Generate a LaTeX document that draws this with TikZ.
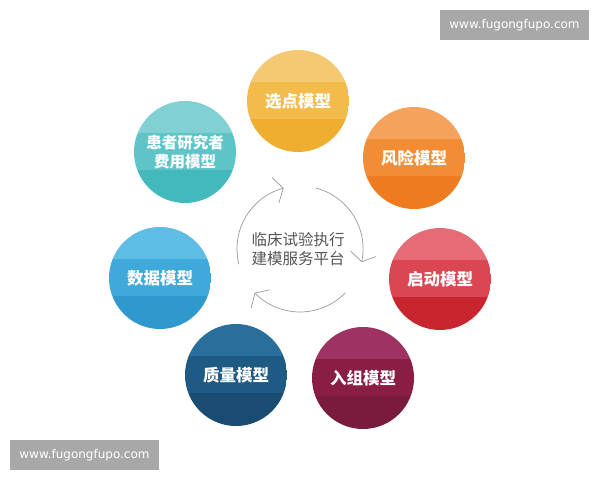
\documentclass[tikz,border=0pt]{standalone}
\usepackage{fontspec}
\usepackage{xcolor}
\usepackage{tikz}
\usetikzlibrary{calc}
\usetikzlibrary{arrows.meta}
\usetikzlibrary{positioning}
\newfontfamily\cjk{Noto Sans CJK SC}
\newfontfamily\webfont{DejaVu Sans}

\definecolor{xdA}{HTML}{F5C872}
\definecolor{xdB}{HTML}{F2BB4C}
\definecolor{xdC}{HTML}{EFAE30}
\definecolor{fxA}{HTML}{F5A25C}
\definecolor{fxB}{HTML}{F28D35}
\definecolor{fxC}{HTML}{EE7B1F}
\definecolor{qdA}{HTML}{E66B76}
\definecolor{qdB}{HTML}{DA4753}
\definecolor{qdC}{HTML}{C9252F}
\definecolor{rzA}{HTML}{9E3262}
\definecolor{rzB}{HTML}{8A1D46}
\definecolor{rzC}{HTML}{7A1A3C}
\definecolor{zlA}{HTML}{2A6F9B}
\definecolor{zlB}{HTML}{1F5A85}
\definecolor{zlC}{HTML}{1A4B71}
\definecolor{sjA}{HTML}{5DBDE5}
\definecolor{sjB}{HTML}{3FA9D9}
\definecolor{sjC}{HTML}{2F98CC}
\definecolor{hzA}{HTML}{80D0D4}
\definecolor{hzB}{HTML}{5EC4C8}
\definecolor{hzC}{HTML}{43B8BD}
\definecolor{hubtext}{HTML}{555555}
\definecolor{cyclegray}{HTML}{9A9A9A}
\definecolor{markgray}{HTML}{A8A8A8}

\tikzset{>={Straight Barb[length=8pt,width=26pt]}}
\tikzset{
  model/.style n args={3}{circle, minimum size=102pt, inner sep=0pt, align=center,
    text=white, font=\cjk\bfseries\fontsize{16.5}{20}\selectfont,
    path picture={
      \fill[#1] (path picture bounding box.north west) rectangle ([yshift=19pt]path picture bounding box.east);
      \fill[#2] ([yshift=19pt]path picture bounding box.west) rectangle ([yshift=-18pt]path picture bounding box.east);
      \fill[#3] ([yshift=-18pt]path picture bounding box.west) rectangle (path picture bounding box.south east);
    }},
  cyclearc/.style = {->, draw=cyclegray, line width=0.7pt},
  webmark/.style = {fill=markgray, text=white, minimum width=149pt, minimum height=30pt,
    inner sep=0pt, font=\webfont\fontsize{12}{14}\selectfont}
}

\begin{document}
\begin{tikzpicture}[x=1pt, y=1pt]
\useasboundingbox [fill=white] (0, 0) rectangle (600, 480);
% models around the hub
\node [model={xdA}{xdB}{xdC}] (xuandian) at (298, 379) {选点模型};
\node [model={fxA}{fxB}{fxC}] (fengxian) at (414, 322) {风险模型};
\node [model={qdA}{qdB}{qdC}] (qidong) at (440, 201) {启动模型};
\node [model={rzA}{rzB}{rzC}] (ruzu) at (363, 102) {入组模型};
\node [model={zlA}{zlB}{zlC}] (zhiliang) at (236, 105) {质量模型};
\node [model={sjA}{sjB}{sjC}] (shuju) at (160, 202) {数据模型};
\node [model={hzA}{hzB}{hzC}, font=\cjk\bfseries\fontsize{15.5}{19.5}\selectfont] (huanzhe) at (185, 328) {患者研究者\\费用模型};
% hub
\node [align=center, text=hubtext, font=\cjk\fontsize{15.5}{18.5}\selectfont] (hub) at (298, 231) {临床试验执行\\建模服务平台};
\coordinate (ring) at (300, 231);
\draw [cyclearc] ([shift={(194:63)}]ring) arc [start angle=194, end angle=105, radius=63];
\draw [cyclearc] ([shift={(76:63)}]ring) arc [start angle=76, end angle=-12, radius=63];
\draw [cyclearc] ([shift={(-44:63)}]ring) arc [start angle=-44, end angle=-136, radius=63];
% watermarks
\node [webmark] (marktop) at (514.5, 455) {www.fugongfupo.com};
\node [webmark] (markbottom) at (84.5, 25) {www.fugongfupo.com};
\end{tikzpicture}
\end{document}
